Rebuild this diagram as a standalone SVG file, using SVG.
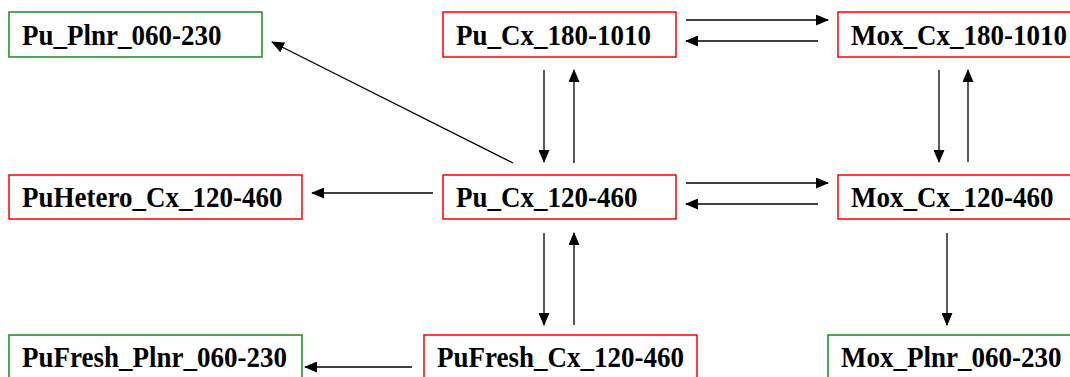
<svg xmlns="http://www.w3.org/2000/svg" width="1070" height="377" viewBox="0 0 1070 377">
<defs>
<style>
.n rect{fill:#fff;stroke-width:1.5}
.r rect{stroke:#f00}
.g rect{stroke:#1a8a1a}
.n text{font-family:"Liberation Serif","Times New Roman",serif;font-weight:bold;font-size:27px;fill:#000}
.c line{stroke:#000;stroke-width:1.3;marker-end:url(#ah)}
</style>
<marker id="ah" markerWidth="13" markerHeight="11" refX="12" refY="5.5" orient="auto" markerUnits="userSpaceOnUse">
<path d="M0,0 L13,5.5 L0,11 z" fill="#000"/>
</marker>
</defs>
<rect width="1070" height="377" fill="#fff"/>
<g id="PuPlnr" class="n g"><rect x="9" y="12" width="253" height="45"/><text transform="translate(22,45) scale(1,1.1)">Pu_Plnr_060-230</text></g>
<g id="PuCx180" class="n r"><rect x="443" y="12" width="233" height="45"/><text transform="translate(456,45) scale(1,1.1)">Pu_Cx_180-1010</text></g>
<g id="MoxCx180" class="n r"><rect x="838" y="12" width="240" height="45"/><text transform="translate(851,45) scale(1,1.1)">Mox_Cx_180-1010</text></g>
<g id="PuHetero" class="n r"><rect x="9" y="175" width="293" height="44"/><text transform="translate(22,207) scale(1,1.1)">PuHetero_Cx_120-460</text></g>
<g id="PuCx120" class="n r"><rect x="443" y="175" width="233" height="44"/><text transform="translate(456,207) scale(1,1.1)">Pu_Cx_120-460</text></g>
<g id="MoxCx120" class="n r"><rect x="838" y="175" width="240" height="44"/><text transform="translate(851,207) scale(1,1.1)">Mox_Cx_120-460</text></g>
<g id="PuFreshPlnr" class="n g"><rect x="9" y="335" width="293" height="50"/><text transform="translate(22,367) scale(1,1.1)">PuFresh_Plnr_060-230</text></g>
<g id="PuFreshCx" class="n r"><rect x="424" y="335" width="273" height="50"/><text transform="translate(437,367) scale(1,1.1)">PuFresh_Cx_120-460</text></g>
<g id="MoxPlnr" class="n g"><rect x="828" y="335" width="250" height="50"/><text transform="translate(841,367) scale(1,1.1)">Mox_Plnr_060-230</text></g>
<g id="connectors" class="c">
<line x1="686" y1="20" x2="828" y2="20"/>
<line x1="818" y1="41" x2="686" y2="41"/>
<line x1="544" y1="70" x2="544" y2="162"/>
<line x1="574" y1="163" x2="574" y2="70"/>
<line x1="939" y1="70" x2="939" y2="162"/>
<line x1="968" y1="162" x2="968" y2="70"/>
<line x1="513" y1="163" x2="272" y2="42"/>
<line x1="433" y1="193" x2="312" y2="193"/>
<line x1="686" y1="183" x2="828" y2="183"/>
<line x1="818" y1="204" x2="686" y2="204"/>
<line x1="544" y1="233" x2="544" y2="325"/>
<line x1="574" y1="325" x2="574" y2="233"/>
<line x1="947" y1="233" x2="947" y2="325"/>
<line x1="412" y1="367" x2="305" y2="367"/>
</g>
</svg>
